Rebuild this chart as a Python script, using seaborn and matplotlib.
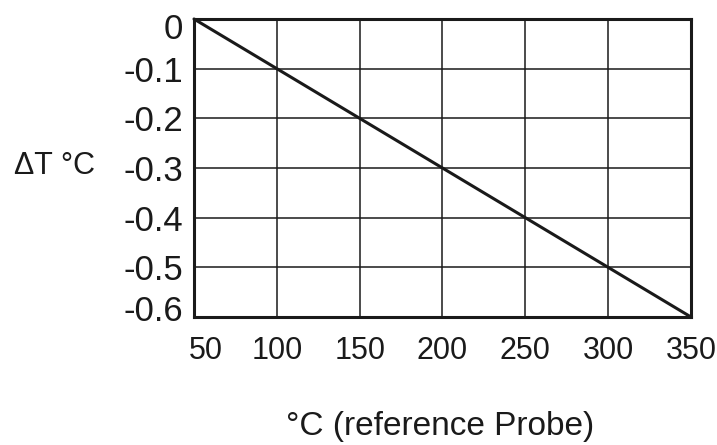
import matplotlib
matplotlib.use("Agg")
import matplotlib.pyplot as plt
import matplotlib.transforms as mtransforms
import seaborn as sns
import pandas as pd

# reference probe temperature vs. deviation
ref_temp = [50, 100, 150, 200, 250, 300, 350]
delta_t = [0.0, -0.1, -0.2, -0.3, -0.4, -0.5, -0.6]
x_ticks = [50, 100, 150, 200, 250, 300, 350]
y_ticks = [0, -0.1, -0.2, -0.3, -0.4, -0.5, -0.6]
y_labels = ["0", "-0.1", "-0.2", "-0.3", "-0.4", "-0.5", "-0.6"]

df = pd.DataFrame({"ref": ref_temp, "dt": delta_t})

sns.set_style("white")
plt.rcParams["font.family"] = ["Liberation Sans", "DejaVu Sans"]

fig = plt.figure(figsize=(7.17, 4.45), dpi=100)
ax = fig.add_axes([0.2706, 0.2876, 0.6931, 0.6697])

sns.lineplot(x="ref", y="dt", data=df, ax=ax, color="#1a1a1a", linewidth=2.2, clip_on=False)

ax.set_xlim(50, 350)
ax.set_ylim(-0.6, 0)
ax.set_xticks(x_ticks)
ax.set_xticklabels([str(v) for v in x_ticks], fontsize=22, color="#1a1a1a")
ax.set_yticks(y_ticks)
ax.set_yticklabels(y_labels, fontsize=25, color="#1a1a1a")
ax.tick_params(axis="x", length=0, pad=14)
ax.tick_params(axis="y", length=0, pad=8)

# nudge the corner labels like the original sheet
xl = ax.get_xticklabels()
xl[0].set_transform(xl[0].get_transform() + mtransforms.ScaledTranslation(0.12, 0, fig.dpi_scale_trans))
yl = ax.get_yticklabels()
yl[0].set_transform(yl[0].get_transform() + mtransforms.ScaledTranslation(0, -0.07, fig.dpi_scale_trans))
yl[-1].set_transform(yl[-1].get_transform() + mtransforms.ScaledTranslation(0, 0.09, fig.dpi_scale_trans))

ax.grid(True, color="#1a1a1a", linewidth=1.1)
for s in ax.spines.values():
    s.set_visible(True)
    s.set_color("#1a1a1a")
    s.set_linewidth(2.2)

ax.set_xlabel("")
ax.set_ylabel("")
fig.text(440 / 717, 1 - 426 / 445, "°C (reference Probe)", fontsize=24,
         ha="center", va="center", color="#1a1a1a")
fig.text(54 / 717, 1 - 166 / 445, "ΔT °C", fontsize=22,
         ha="center", va="center", color="#1a1a1a")

fig.savefig("out.png", dpi=100)
